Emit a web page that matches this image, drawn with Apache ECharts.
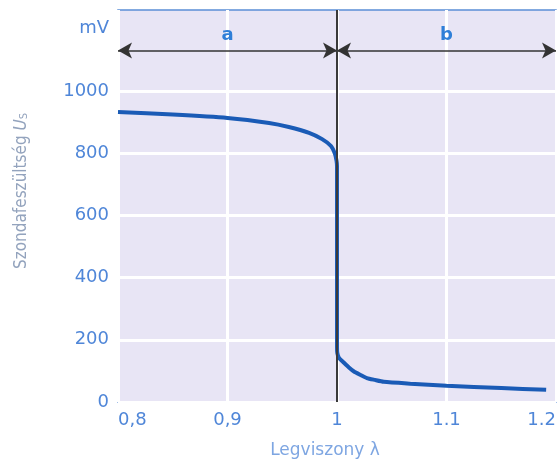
<!DOCTYPE html>
<html><head><meta charset="utf-8">
<script src="https://cdn.jsdelivr.net/npm/echarts@6/dist/echarts.min.js"></script>
<style>html,body{margin:0;padding:0;background:#fff}#c{width:558px;height:459px}</style>
</head><body><div id="c"></div>
<script>
// Data (λ, mV)
const lambda  = [0.8, 0.85, 0.9, 0.938, 0.956, 0.9745, 0.9864, 0.9945, 0.9982, 0.9996, 1.0, 1.0, 1.0, 1.0003, 1.0018, 1.0064, 1.0109, 1.0155, 1.0215, 1.0273, 1.0345, 1.0427, 1.067, 1.1, 1.15, 1.191];
const voltage = [932, 924, 913, 897, 884, 865, 845, 823, 797, 775, 758, 400, 177, 157, 142, 126, 111, 98, 87, 77, 71, 65, 59, 52, 45, 39];
const xTickLabels = {"0.8": "0,8", "0.9": "0,9", "1": "1", "1.1": "1.1", "1.2": "1.2"};
const yTickLabels = {"0": "0", "200": "200", "400": "400", "600": "600", "800": "800", "1000": "1000", "1200": "mV"};
const arrowY = 1130;
const regionA = [0.8, 1.0];
const regionB = [1.0, 1.2];
const stoich = 1.0;

const chart = echarts.init(document.getElementById('c'), null, {renderer: 'canvas'});
const labelColor = '#4f86d8';
chart.setOption({
  animation: false,
  grid: {left: 118, right: 2, top: 10, bottom: 57, containLabel: false, outerBoundsMode: 'none',
    show: true, backgroundColor: '#e8e5f5', borderColor: '#5b8ed6', borderWidth: 1.5},
  xAxis: {
    type: 'value', min: 0.8, max: 1.2, interval: 0.1,
    axisLine: {show: false}, axisTick: {show: false},
    splitLine: {show: true, lineStyle: {color: '#ffffff', width: 3}},
    axisLabel: {margin: 9, color: labelColor, fontFamily: 'DejaVu Sans', fontSize: 18,
      alignMinLabel: 'left', alignMaxLabel: 'right',
      formatter: v => xTickLabels[String(Math.round(v * 10) / 10)] || ''},
    name: 'Legviszony λ', nameLocation: 'middle', nameGap: 40,
    nameTextStyle: {color: '#7ea6e2', fontFamily: 'DejaVu Sans', fontSize: 17, padding: [0, 24, 0, 0]}
  },
  yAxis: {
    type: 'value', min: 0, max: 1260, interval: 200,
    axisLine: {show: false}, axisTick: {show: false},
    splitLine: {show: true, lineStyle: {color: ['#ffffff', '#ffffff', '#ffffff', '#ffffff', '#ffffff', '#ffffff', 'rgba(0,0,0,0)', 'rgba(0,0,0,0)'], width: 3}},
    axisLabel: {margin: 9, color: labelColor, fontFamily: 'DejaVu Sans', fontSize: 18,
      showMaxLabel: false,
      formatter: v => yTickLabels[String(Math.round(v))] || ''},
    name: 'Szondafeszültség {u|U}{s|S}', nameLocation: 'middle', nameGap: 88,
    nameTextStyle: {color: '#93a3bd', fontFamily: "'DejaVu Sans Condensed', 'Liberation Sans', sans-serif", fontSize: 17,
      padding: [0, 0, 0, 30],
      rich: {u: {fontStyle: 'italic', fontSize: 17, color: '#93a3bd', fontFamily: "'DejaVu Sans Condensed', 'Liberation Sans', sans-serif"},
             s: {fontSize: 11, color: '#93a3bd', verticalAlign: 'bottom', fontFamily: "'DejaVu Sans Condensed', 'Liberation Sans', sans-serif"}}}
  },
  series: [{
    type: 'line',
    data: lambda.map((x, i) => [x, voltage[i]]),
    showSymbol: false, smooth: 0.2,
    lineStyle: {color: '#1a5bb6', width: 4},
    z: 3,
    markLine: {
      silent: true, symbol: ['arrow', 'arrow'], symbolSize: [12, 14], precision: 4,
      lineStyle: {color: '#333333', width: 1.5, type: 'solid'},
      label: {show: true, position: 'middle', color: '#2f7fd8', fontFamily: 'DejaVu Sans', fontSize: 18, fontWeight: 'bold', distance: 6},
      data: [
        [{coord: [regionA[0], arrowY], name: 'a', label: {formatter: 'a'}}, {coord: [regionA[1], arrowY]}],
        [{coord: [regionB[0], arrowY], name: 'b', label: {formatter: 'b'}}, {coord: [regionB[1], arrowY]}],
        [{coord: [stoich, 0], symbol: 'none', lineStyle: {width: 2, color: '#3a3a3a'}, label: {show: false}},
         {coord: [stoich, 1260], symbol: 'none'}]
      ]
    }
  }]
});
</script></body></html>
